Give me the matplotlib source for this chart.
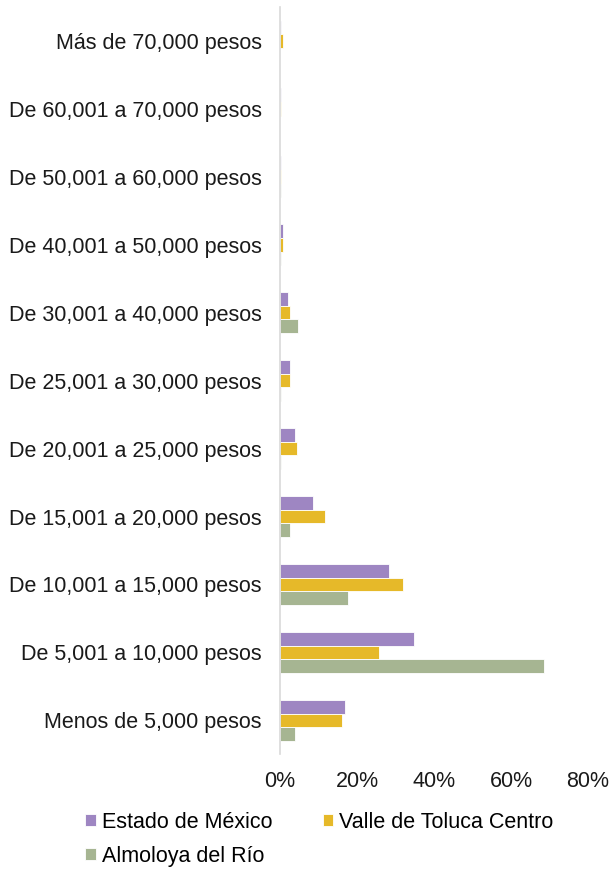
import numpy as np
import matplotlib.pyplot as plt

plt.rcParams['font.family'] = ['Liberation Sans', 'DejaVu Sans']

# Datos (de abajo hacia arriba)
categorias = ['Menos de 5,000 pesos', 'De 5,001 a 10,000 pesos', 'De 10,001 a 15,000 pesos',
              'De 15,001 a 20,000 pesos', 'De 20,001 a 25,000 pesos', 'De 25,001 a 30,000 pesos',
              'De 30,001 a 40,000 pesos', 'De 40,001 a 50,000 pesos', 'De 50,001 a 60,000 pesos',
              'De 60,001 a 70,000 pesos', 'Más de 70,000 pesos']
estado_mexico = [16.8, 34.7, 28.3, 8.5, 3.9, 2.5, 2.1, 0.7, 0.2, 0.2, 0.2]
valle_toluca = [16.2, 25.8, 31.9, 11.6, 4.3, 2.5, 2.5, 0.7, 0.2, 0.2, 0.7]
almoloya = [3.8, 68.6, 17.6, 2.5, 0.3, 0.3, 4.7, 0.3, 0.3, 0.0, 0.0]

series = ['Estado de México', 'Valle de Toluca Centro', 'Almoloya del Río']
colores = ['#9e86c2', '#e6b929', '#a6b592']

fig = plt.figure(figsize=(6.1, 8.69), dpi=100)
ax = fig.add_axes([0.459, 0.132, 0.505, 0.86])

y = np.arange(len(categorias))
h = 0.2
barras = []
for valores, nombre, color, off in zip([estado_mexico, valle_toluca, almoloya], series, colores, [h, 0, -h]):
    b = ax.barh(y + off, valores, height=h, color=color, edgecolor='white', linewidth=0.6, label=nombre)
    barras.append(b)

ax.set_xlim(0, 80)
ax.set_ylim(-0.5, len(categorias) - 0.5)
ax.set_xticks([0, 20, 40, 60, 80])
ax.set_xticklabels(['0%', '20%', '40%', '60%', '80%'])
ax.set_yticks(y)
ax.set_yticklabels(categorias)
ax.tick_params(axis='both', length=0, labelsize=15.5, colors='#1a1a1a')
ax.tick_params(axis='y', pad=13)
ax.tick_params(axis='x', pad=12)

for lado in ['top', 'right', 'bottom']:
    ax.spines[lado].set_visible(False)
ax.spines['left'].set_color('#d9d9d9')
ax.spines['left'].set_linewidth(1.2)

# orden por filas: Estado, Valle / Almoloya
orden = [0, 2, 1]
fig.legend([barras[i] for i in orden], [series[i] for i in orden],
           loc='upper left', bbox_to_anchor=(0.14, 0.066), ncol=2, frameon=False,
           fontsize=15.5, handlelength=0.5, handleheight=0.5, handletextpad=0.25,
           columnspacing=2.35, labelspacing=0.62, borderaxespad=0, borderpad=0)

plt.savefig('out.png', dpi=100)
